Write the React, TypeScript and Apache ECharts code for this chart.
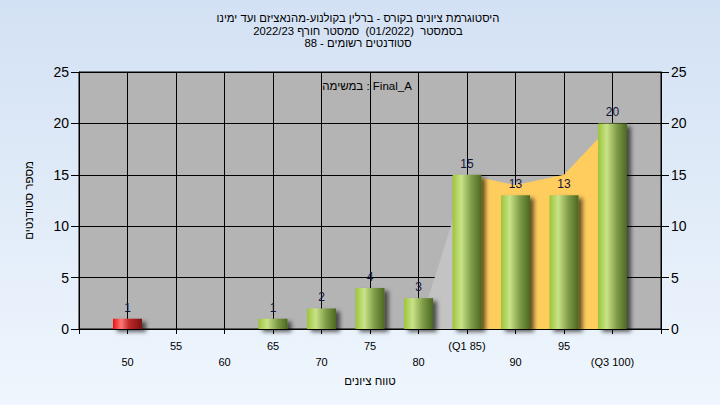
import React, { useEffect, useRef } from "react";
import * as echarts from "echarts";

const titleLines = [
  "היסטוגרמת ציונים בקורס - ברלין בקולנוע-מהנאציזם ועד ימינו",
  "בסמסטר  (01/2022)  סמסטר חורף 2022/23",
  "סטודנטים רשומים - 88",
];
const subtitleText = "במשימה : Final_A";
const xAxisTitle = "טווח ציונים";
const yAxisTitle = "מספר סטודנטים";

const scoreBins = [50, 55, 60, 65, 70, 75, 80, 85, 90, 95, 100];
const binLabels = ["50", "55", "60", "65", "70", "75", "80", "(Q1 85)", "90", "95", "(Q3 100)"];
const studentCounts = [1, 0, 0, 1, 2, 4, 3, 15, 13, 13, 20];
const failingBins = [50];

const rampX = [80, 85];
const rampY = [0, 15];
const quartileX = [85, 90, 95, 100];
const quartileY = [15, 14, 15, 20];

const yTicks = [0, 5, 10, 15, 20, 25];

const FONT = "'Liberation Sans', 'DejaVu Sans', Arial, sans-serif";

export default function App() {
  const ref = useRef<HTMLDivElement>(null);
  useEffect(() => {
    document.body.style.margin = "0";
    if (!ref.current) return;
    const chart = echarts.init(ref.current, null, { renderer: "svg" });

    const greenGrad = new echarts.graphic.LinearGradient(0, 0, 1, 0, [
      { offset: 0, color: "#9cc43a" },
      { offset: 0.3, color: "#c9e388" },
      { offset: 0.65, color: "#7f9c48" },
      { offset: 1, color: "#4b6820" },
    ]);
    const redGrad = new echarts.graphic.LinearGradient(0, 0, 1, 0, [
      { offset: 0, color: "#f01212" },
      { offset: 0.28, color: "#ff7878" },
      { offset: 0.55, color: "#c02a2a" },
      { offset: 1, color: "#7a1212" },
    ]);

    const titleY = [18, 30.5, 43];

    const yMax = yTicks[yTicks.length - 1];
    const yInterval = yTicks[1] - yTicks[0];

    const yAxisCommon = {
      type: "value",
      min: yTicks[0],
      max: yMax,
      interval: yInterval,
      axisLine: { show: true, lineStyle: { color: "#000", width: 1 } },
      axisTick: { show: true, length: 8, lineStyle: { color: "#000" } },
      axisLabel: { color: "#000", fontSize: 14, margin: 10, fontFamily: FONT },
    };

    chart.setOption({
      animation: false,
      backgroundColor: new echarts.graphic.LinearGradient(0, 0, 0, 1, [
        { offset: 0, color: "#d3e1f4" },
        { offset: 1, color: "#eff6fd" },
      ]),
      textStyle: { fontFamily: FONT },
      grid: {
        left: 79,
        right: 59,
        top: 72,
        bottom: 76,
        show: true,
        backgroundColor: "#b4b4b4",
        borderColor: "#000",
        borderWidth: 1,
      },
      graphic: [
        ...titleLines.map((t, i) => ({
          type: "text",
          x: 358,
          y: titleY[i],
          z: 100,
          style: {
            text: t,
            fontSize: 11.3,
            fill: "#000",
            fontFamily: FONT,
            textAlign: "center",
            textVerticalAlign: "middle",
          },
        })),
        {
          type: "text",
          x: 367,
          y: 86,
          z: 100,
          style: {
            text: subtitleText,
            fontSize: 11.5,
            fill: "#000",
            fontFamily: FONT,
            textAlign: "center",
            textVerticalAlign: "middle",
          },
        },
      ],
      xAxis: {
        type: "value",
        min: 45,
        max: 105,
        interval: 5,
        name: xAxisTitle,
        nameLocation: "middle",
        nameGap: 46,
        nameTextStyle: { fontSize: 11.5, color: "#000", fontFamily: FONT },
        axisLine: { show: true, onZero: false, lineStyle: { color: "#000" } },
        axisTick: { show: true, length: 5, lineStyle: { color: "#000" } },
        splitLine: { show: true, lineStyle: { color: "#000", width: 1 } },
        axisLabel: {
          color: "#000",
          fontSize: 11,
          margin: 9,
          lineHeight: 16,
          fontFamily: FONT,
          showMinLabel: true,
          showMaxLabel: true,
          formatter: (v: number) => {
            const i = scoreBins.indexOf(v);
            if (i < 0) return "";
            return i % 2 === 0 ? "\n" + binLabels[i] : binLabels[i];
          },
        },
      },
      yAxis: [
        {
          ...yAxisCommon,
          position: "left",
          name: yAxisTitle,
          nameLocation: "middle",
          nameRotate: 90,
          nameGap: 44,
          nameTextStyle: { fontSize: 11.5, color: "#000", fontFamily: FONT },
          splitLine: { show: true, lineStyle: { color: "#000", width: 1 } },
        },
        {
          ...yAxisCommon,
          position: "right",
          splitLine: { show: false },
        },
      ],
      series: [
        {
          type: "line",
          data: rampX.map((x, i) => [x, rampY[i]]),
          symbol: "none",
          lineStyle: { width: 0, opacity: 0 },
          areaStyle: { color: "#c3c3c3", opacity: 1 },
          z: 1,
          silent: true,
        },
        {
          type: "line",
          data: quartileX.map((x, i) => [x, quartileY[i]]),
          symbol: "none",
          lineStyle: { width: 0, opacity: 0 },
          areaStyle: { color: "#ffcc5e", opacity: 1 },
          z: 1,
          silent: true,
        },
        {
          type: "bar",
          barWidth: 29,
          z: 3,
          data: scoreBins.map((x, i) => ({
            value: [x, studentCounts[i]],
            itemStyle: {
              color: failingBins.includes(x) ? redGrad : greenGrad,
              shadowColor: "rgba(0,0,0,0.6)",
              shadowBlur: 4,
              shadowOffsetX: 4,
              shadowOffsetY: 3,
            },
          })),
          label: {
            show: true,
            position: "top",
            distance: 5,
            fontSize: 12,
            color: "#141438",
            fontFamily: FONT,
            formatter: (p: any) => (p.value[1] > 0 ? String(p.value[1]) : ""),
          },
        },
      ],
    });
    return () => chart.dispose();
  }, []);
  return <div ref={ref} style={{ width: 720, height: 405 }} />;
}
